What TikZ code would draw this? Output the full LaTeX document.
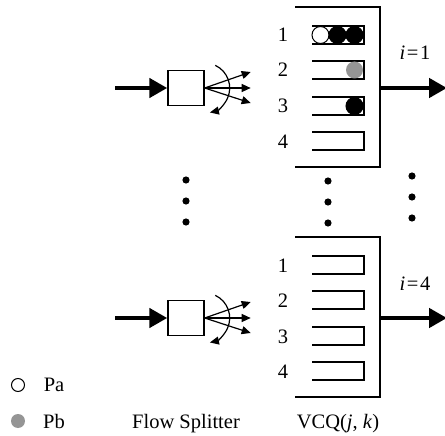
\documentclass[tikz,border=0pt]{standalone}
\usepackage{fontspec}
\setmainfont{Liberation Serif}
\usetikzlibrary{positioning,arrows.meta}
\definecolor{PbGray}{HTML}{959595}

\begin{document}
\begin{tikzpicture}[x=1pt,y=-1pt,>=Triangle]
  \tikzstyle{txt}=[font=\fontsize{20.5}{24}\selectfont,inner sep=0pt,anchor=base]
  \tikzstyle{splitter}=[draw,line width=1.4pt,minimum width=36pt,
    minimum height=35pt,inner sep=0pt]
  \tikzstyle{bigarrow}=[line width=4.8pt,-{Triangle[length=18pt,width=19pt]}]
  \tikzstyle{fan}=[line width=1.2pt,-{Triangle[length=9pt,width=8pt]}]
  \tikzstyle{vcq}=[line width=1.4pt]
  \tikzstyle{queue}=[line width=1.1pt]
  \tikzstyle{pkt}=[circle,line width=1pt,minimum size=17pt,inner sep=0pt]
  \useasboundingbox (0,0) rectangle (445,436);

  % flow splitters
  \node[splitter] (fs1) at (186,88) {};
  \node[splitter] (fs4) at (186,318) {};
  \coordinate (in1) at (115,88);
  \coordinate (in4) at (115,318);
  \draw[bigarrow] (in1)--(fs1.west);
  \draw[bigarrow] (in4)--(fs4.west);
  \foreach \s in {1,4} {
    \foreach \n/\dy in {a/-16,b/0,c/15} {
      \coordinate (fs\s\n) at ([shift={(46,\dy)}]fs\s.east);
      \draw[fan] (fs\s.east)--(fs\s\n);
    }
    \draw[fan] ([shift={(65:25pt)}]fs\s.east) arc[start angle=65,end angle=-78,radius=25pt];
  }

  % VCQ boxes
  \foreach \s/\oy in {1/0,4/230} {
    \draw[vcq] (295,7+\oy)--(380,7+\oy)--(380,167+\oy)--(295,167+\oy);
    \foreach \r/\y in {1/35,2/70,3/106,4/141} {
      \node[txt] (q\s n\r) at (283,\y+\oy+7) {\r};
      \draw[queue] (312,\y+\oy-9)--(364,\y+\oy-9)--(364,\y+\oy+9)--(312,\y+\oy+9);
    }
    \coordinate (out\s) at (380,88+\oy);
    \coordinate (end\s) at (447,88+\oy);
    \draw[bigarrow] (out\s)--(end\s);
  }
  \node[txt] (i1) at (415,60) {\textit{i}\kern1.5pt=\kern1.5pt1};
  \node[txt] (i4) at (415,290) {\textit{i}\kern1.5pt=\kern1.5pt4};

  % packets
  \node[pkt,draw,fill=white] (p11) at (320.5,35) {};
  \node[pkt,draw,fill=black] (p12) at (337.5,35) {};
  \node[pkt,draw,fill=black] (p13) at (354.5,35) {};
  \node[pkt,fill=PbGray] (p21) at (354.5,70) {};
  \node[pkt,draw,fill=black] (p31) at (354.5,106) {};

  % ellipses
  \foreach \px/\py in {186/180,328/181,412/176}
    \foreach \k in {0,1,2}
      \fill (\px,\py+21*\k) circle[radius=3.6pt];

  % legend
  \node[circle,draw,line width=1pt,minimum size=13pt,inner sep=0pt] (pa) at (18,385) {};
  \node[circle,fill=PbGray,minimum size=14pt,inner sep=0pt] (pb) at (18,421) {};
  \node[txt] (pat) at (54,391) {Pa};
  \node[txt] (pbt) at (54,428) {Pb};
  \node[txt] (fst) at (186,428) {Flow Splitter};
  \node[txt] (vcqt) at (338,428) {VCQ(\textit{j}, \textit{k})};
\end{tikzpicture}
\end{document}
